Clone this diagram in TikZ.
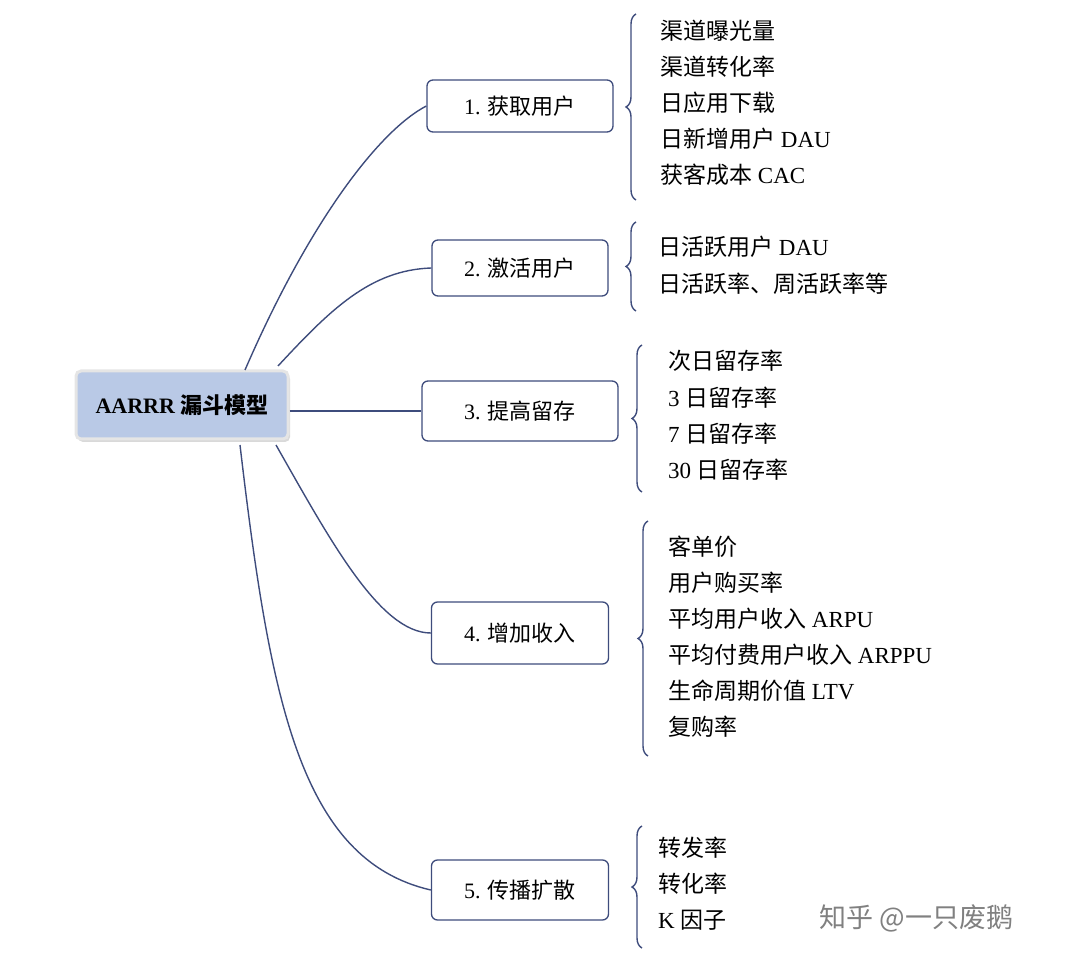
\documentclass[tikz,border=0pt]{standalone}
\usepackage{fontspec}
\setmainfont{Liberation Serif}
\newfontfamily\cjk{Noto Sans CJK SC}
\newcommand{\zh}[1]{{\cjk #1}}
\usetikzlibrary{decorations.pathreplacing,shadows}
\definecolor{ln}{HTML}{3E4C7C}
\definecolor{rootfill}{HTML}{B9C9E6}
\tikzset{
  br/.style={draw=ln,rounded corners=6pt,minimum width=180pt,minimum height=54pt,font=\fontsize{22}{26}\selectfont,line width=1.3pt,fill=white},
  leaf/.style={anchor=west,font=\fontsize{23}{27}\selectfont,inner sep=0pt},
  con/.style={draw=ln,line width=1.4pt},
  brc/.style={draw=ln,line width=1.4pt,decorate,decoration={brace,amplitude=10pt}}
}
\begin{document}
\begin{tikzpicture}[x=1pt,y=-1pt]
\useasboundingbox (0,0) rectangle (1080,965);
\node[draw=white!80!gray,fill=rootfill,line width=3pt,rounded corners=5pt,minimum width=212pt,minimum height=68pt,drop shadow={shadow xshift=2pt,shadow yshift=-3pt,opacity=0.3},font=\fontsize{22}{26}\selectfont\bfseries] (root) at (182,405) {AARRR \zh{漏斗模型}};
\node[br,minimum width=186pt,minimum height=52pt] (n1) at (520,106) {1. \zh{获取用户}};
\node[br,minimum width=176pt,minimum height=56pt] (n2) at (520,268) {2. \zh{激活用户}};
\node[br,minimum width=196pt,minimum height=60pt] (n3) at (520,411) {3. \zh{提高留存}};
\node[br,minimum width=177pt,minimum height=62pt] (n4) at (520,633) {4. \zh{增加收入}};
\node[br,minimum width=177pt,minimum height=60pt] (n5) at (520,890) {5. \zh{传播扩散}};
\coordinate (r1) at (245,370); \coordinate (r2) at (278,366);
\coordinate (r4) at (276,445); \coordinate (r5) at (240,445);
\draw[con] (r1) .. controls (310,220) and (380,130) .. (n1.west);
\draw[con] (r2) .. controls (330,310) and (370,270) .. (n2.west);
\draw[con] (root.east |- n3.west) -- (n3.west);
\draw[con] (r4) .. controls (330,540) and (380,633) .. (n4.west);
\draw[con] (r5) .. controls (270,700) and (300,860) .. (n5.west);
\draw[brc] (636,200) -- (636,14);
\draw[brc] (636,311) -- (636,222);
\draw[brc] (642,492) -- (642,345);
\draw[brc] (648,756) -- (648,521);
\draw[brc] (642,948) -- (642,826);
\node[leaf] (a1) at (660,31) {\zh{渠道曝光量}};
\node[leaf] (a2) at (660,67) {\zh{渠道转化率}};
\node[leaf] (a3) at (660,103) {\zh{日应用下载}};
\node[leaf] (a4) at (660,139) {\zh{日新增用户} DAU};
\node[leaf] (a5) at (660,175) {\zh{获客成本} CAC};
\node[leaf] (b1) at (658,247) {\zh{日活跃用户} DAU};
\node[leaf] (b2) at (658,284) {\zh{日活跃率、周活跃率等}};
\node[leaf] (c1) at (668,361) {\zh{次日留存率}};
\node[leaf] (c2) at (668,398) {3 \zh{日留存率}};
\node[leaf] (c3) at (668,434) {7 \zh{日留存率}};
\node[leaf] (c4) at (668,470) {30 \zh{日留存率}};
\node[leaf] (d1) at (668,547) {\zh{客单价}};
\node[leaf] (d2) at (668,583) {\zh{用户购买率}};
\node[leaf] (d3) at (668,619) {\zh{平均用户收入} ARPU};
\node[leaf] (d4) at (668,655) {\zh{平均付费用户收入} ARPPU};
\node[leaf] (d5) at (668,691) {\zh{生命周期价值} LTV};
\node[leaf] (d6) at (668,727) {\zh{复购率}};
\node[leaf] (e1) at (658,848) {\zh{转发率}};
\node[leaf] (e2) at (658,884) {\zh{转化率}};
\node[leaf] (e3) at (658,920) {K \zh{因子}};
\node[anchor=west,text=gray,font=\fontsize{27}{31}\selectfont\cjk] (wm) at (816,918) {知乎 @一只废鹅};
\end{tikzpicture}
\end{document}
